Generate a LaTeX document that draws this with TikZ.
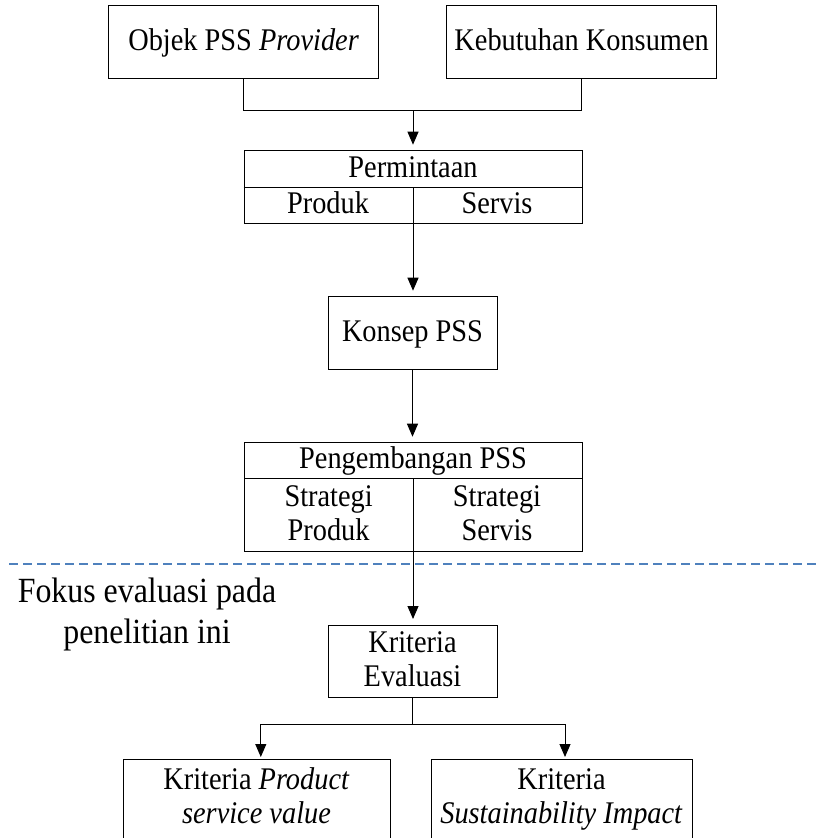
\documentclass[tikz,border=0pt]{standalone}
\usepackage{fontspec}
\setmainfont[FakeStretch=0.9]{Liberation Serif}
\usetikzlibrary{arrows.meta}
\definecolor{focusblue}{RGB}{79,129,189}
\newcommand\boxfont{\fontsize{31.5pt}{34pt}\selectfont}
\newcommand\notefont{\fontsize{35.4pt}{40.6pt}\selectfont}
\begin{document}
\begin{tikzpicture}[x=1pt,y=-1pt,
  box/.style={draw, line width=1pt, inner sep=0pt},
  txt/.style={inner sep=0pt, align=center, font=\boxfont, anchor=base},
  con/.style={line width=1pt},
  arr/.style={line width=1pt, -{Triangle[length=13pt,width=11pt]}, shorten >=5.5pt},
  arrclose/.style={arr, shorten >=1.5pt},
  divide/.style={focusblue, line width=2pt, dash pattern=on 8.7pt off 5.3pt},
]
\useasboundingbox (0,0) rectangle (817,838);
\clip (0,0) rectangle (817,838);

% top inputs
\node[box, minimum width=270pt, minimum height=73pt] (prov) at (243.6,41.5) {};
\node[txt] (provT) at (243.6,50) {Objek PSS \textit{Provider}};
\node[box, minimum width=270pt, minimum height=73pt] (kons) at (581.6,41.5) {};
\node[txt] (konsT) at (581.6,50) {Kebutuhan Konsumen};

% demand split into product / service
\node[box, minimum width=338pt, minimum height=73pt] (perm) at (413,187.2) {};
\draw[con] (perm.west) -- (perm.east);
\draw[con] (perm.center) -- (perm.south);
\node[txt] (permT) at (413,177.3) {Permintaan};
\node[txt] (permP) at (328,213.3) {Produk};
\node[txt] (permS) at (497,213.3) {Servis};

% merge of the two inputs
\coordinate (join) at (413,110);
\draw[con] (prov.south) -- (prov.south |- join) -- (kons.south |- join) -- (kons.south);
\draw[arr] (join) -- (perm.north);

% concept
\node[box, minimum width=169pt, minimum height=72.6pt] (konsep) at (412.5,333) {};
\node[txt] (konsepT) at (412.5,341.7) {Konsep PSS};
\draw[arr] (perm.south) -- (perm.south |- konsep.north);

% development
\node[box, minimum width=338pt, minimum height=109pt] (peng) at (413,497.2) {};
\coordinate (pengL) at (244,478.7);
\coordinate (pengR) at (582,478.7);
\coordinate (pengM) at (413,478.7);
\draw[con] (pengL) -- (pengR);
\draw[con] (pengM) -- (peng.south);
\node[txt] (pengT) at (413,468.3) {Pengembangan PSS};
\node[txt] (pengP) at (328.6,540) {Strategi\\Produk};
\node[txt] (pengS) at (497,540) {Strategi\\Servis};
\draw[arr] (konsep.south) -- (konsep.south |- peng.north);

% boundary of the evaluation focus
\coordinate (dashL) at (9,564.3);
\coordinate (dashR) at (817,564.3);
\draw[divide] (dashL) -- (dashR);
\node[inner sep=0pt, align=center, font=\notefont, anchor=base] (fokus) at (147,643.3) {Fokus evaluasi pada\\penelitian ini};

% evaluation criteria
\node[box, minimum width=169pt, minimum height=72pt] (eval) at (412.5,661) {};
\node[txt] (evalT) at (412.5,686.7) {Kriteria\\Evaluasi};
\draw[arr] (peng.south) -- (peng.south |- eval.north);

% two criteria groups
\node[box, minimum width=267pt, minimum height=82pt] (kriL) at (256.5,800) {};
\node[txt] (kriLT) at (256.5,823.3) {Kriteria \textit{Product}\\\textit{service value}};
\node[box, minimum width=261pt, minimum height=82pt] (kriR) at (561.5,800) {};
\node[txt] (kriRT) at (561.5,823.3) {Kriteria\\\textit{Sustainability Impact}};

\coordinate (branch) at (412.5,724.3);
\coordinate (brL) at (260.8,724.3);
\coordinate (brR) at (565,724.3);
\draw[con] (eval.south) -- (branch);
\draw[con] (brL) -- (brR);
\draw[arrclose] (brL) -- (brL |- kriL.north);
\draw[arrclose] (brR) -- (brR |- kriR.north);
\end{tikzpicture}
\end{document}
